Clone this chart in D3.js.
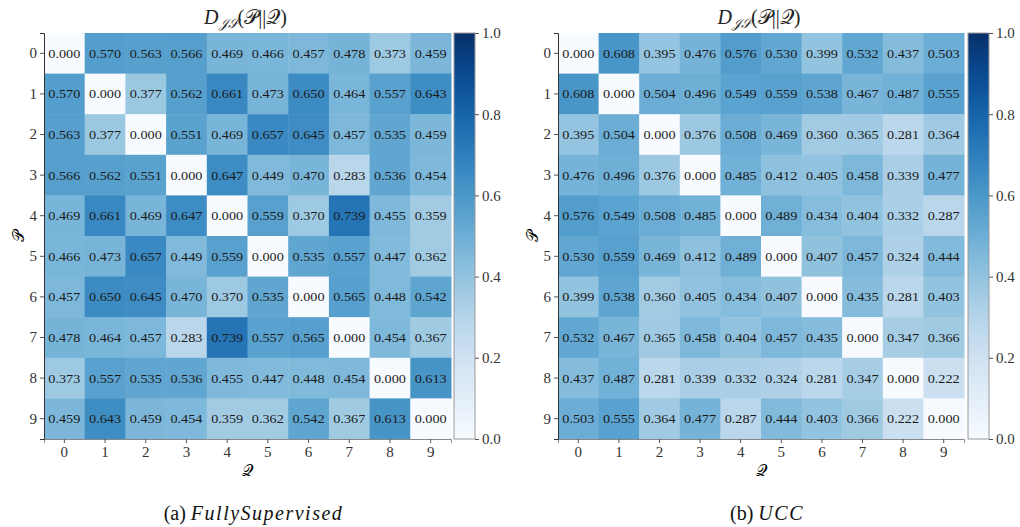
<!DOCTYPE html>
<html><head><meta charset="utf-8">
<script src="https://cdn.jsdelivr.net/npm/d3@7"></script>
<style>body{margin:0;background:#fff}svg{display:block}</style>
</head><body><svg id="c" width="1020" height="527"></svg>
<script>
const labels = ["0","1","2","3","4","5","6","7","8","9"];
const fullySupervised = [
[0.000,0.570,0.563,0.566,0.469,0.466,0.457,0.478,0.373,0.459],
[0.570,0.000,0.377,0.562,0.661,0.473,0.650,0.464,0.557,0.643],
[0.563,0.377,0.000,0.551,0.469,0.657,0.645,0.457,0.535,0.459],
[0.566,0.562,0.551,0.000,0.647,0.449,0.470,0.283,0.536,0.454],
[0.469,0.661,0.469,0.647,0.000,0.559,0.370,0.739,0.455,0.359],
[0.466,0.473,0.657,0.449,0.559,0.000,0.535,0.557,0.447,0.362],
[0.457,0.650,0.645,0.470,0.370,0.535,0.000,0.565,0.448,0.542],
[0.478,0.464,0.457,0.283,0.739,0.557,0.565,0.000,0.454,0.367],
[0.373,0.557,0.535,0.536,0.455,0.447,0.448,0.454,0.000,0.613],
[0.459,0.643,0.459,0.454,0.359,0.362,0.542,0.367,0.613,0.000]];
const ucc = [
[0.000,0.608,0.395,0.476,0.576,0.530,0.399,0.532,0.437,0.503],
[0.608,0.000,0.504,0.496,0.549,0.559,0.538,0.467,0.487,0.555],
[0.395,0.504,0.000,0.376,0.508,0.469,0.360,0.365,0.281,0.364],
[0.476,0.496,0.376,0.000,0.485,0.412,0.405,0.458,0.339,0.477],
[0.576,0.549,0.508,0.485,0.000,0.489,0.434,0.404,0.332,0.287],
[0.530,0.559,0.469,0.412,0.489,0.000,0.407,0.457,0.324,0.444],
[0.399,0.538,0.360,0.405,0.434,0.407,0.000,0.435,0.281,0.403],
[0.532,0.467,0.365,0.458,0.404,0.457,0.435,0.000,0.347,0.366],
[0.437,0.487,0.281,0.339,0.332,0.324,0.281,0.347,0.000,0.222],
[0.503,0.555,0.364,0.477,0.287,0.444,0.403,0.366,0.222,0.000]];
const colorTicks = [0,0.2,0.4,0.6,0.8,1.0];
const panels = [
  {data: fullySupervised, x0: 44, x1: 451, cap: "(a) ", capIt: "FullySupervised", cbx: 454},
  {data: ucc, x0: 558, x1: 964, cap: "(b) ", capIt: "UCC", cbx: 968}
];
const FONT = '"Liberation Serif"';
const svg = d3.select("#c");
const color = d3.scaleSequential(d3.interpolateBlues).domain([0,1]);
const yTop = 33, yBot = 439;

const defs = svg.append("defs");
const grad = defs.append("linearGradient").attr("id","g").attr("x1",0).attr("y1",1).attr("x2",0).attr("y2",0);
d3.range(0,1.0001,0.05).forEach(t=>grad.append("stop").attr("offset",t).attr("stop-color",color(t)));

panels.forEach((p,pi)=>{
  const g = svg.append("g").style("font-family",FONT);
  const x = d3.scaleBand().domain(labels).range([p.x0,p.x1]);
  const y = d3.scaleBand().domain(labels).range([yTop,yBot]);
  p.data.forEach((row,i)=>row.forEach((v,j)=>{
    g.append("rect").attr("x",x(labels[j])).attr("y",y(labels[i]))
     .attr("width",x.bandwidth()+0.5).attr("height",y.bandwidth()+0.5).attr("fill",color(v));
    g.append("text").attr("x",x(labels[j])+x.bandwidth()/2).attr("y",y(labels[i])+y.bandwidth()/2+4.5)
     .attr("text-anchor","middle").attr("font-size",13).attr("textLength",32).attr("lengthAdjust","spacingAndGlyphs")
     .style("font-family",FONT).attr("fill","#1a1a1a").text(v.toFixed(3));
  }));
  const ax = g.append("g").attr("transform",`translate(0,${yBot})`).call(d3.axisBottom(x).tickSize(4).tickPadding(3));
  const ay = g.append("g").attr("transform",`translate(${p.x0},0)`).call(d3.axisLeft(y).tickSize(4).tickPadding(3));
  [ax,ay].forEach(a=>{a.attr("font-family",null);a.selectAll("text").attr("font-size",15).style("font-family",FONT).attr("fill","#333");
    a.selectAll("line").attr("stroke","#555"); a.select(".domain").attr("stroke","#333").attr("stroke-width",1);});
  ax.select(".domain").attr("stroke","#888");
  // colorbar
  const cy = d3.scaleLinear().domain([0,1]).range([yBot,yTop]);
  g.append("rect").attr("x",p.cbx).attr("y",yTop).attr("width",21).attr("height",yBot-yTop)
   .attr("fill","url(#g)").attr("stroke","#999").attr("stroke-width",1);
  const ac = g.append("g").attr("transform",`translate(${p.cbx+21},0)`).call(d3.axisRight(cy).tickValues(colorTicks).tickFormat(d3.format(".1f")).tickSize(4).tickPadding(3));
  ac.select(".domain").remove();
  ac.attr("font-family",null);
  ac.selectAll("text").attr("font-size",15).style("font-family",FONT).attr("fill","#333");
  ac.selectAll("line").attr("stroke","#555");
  const cx = (p.x0+p.x1)/2;
  // title
  const t = g.append("text").attr("x",cx-2).attr("y",24).attr("text-anchor","middle").attr("font-size",20).attr("fill","#222");
  t.append("tspan").attr("font-style","italic").text("D");
  t.append("tspan").attr("font-size",13).attr("dy",4).attr("font-style","italic").text("𝒥𝒮");
  t.append("tspan").attr("dy",-4).text("(");
  t.append("tspan").text("𝒫");
  t.append("tspan").text("||");
  t.append("tspan").text("𝒬");
  t.append("tspan").text(")");
  // x label
  g.append("text").attr("x",cx).attr("y",476).attr("text-anchor","middle").attr("font-size",16).text("𝒬");
  // y label
  g.append("text").attr("transform",`translate(${p.x0-20},${(yTop+yBot)/2}) rotate(-90)`).attr("text-anchor","middle").attr("font-size",16).text("𝒫");
  // caption
  const c = g.append("text").attr("x",cx+6).attr("y",520).attr("text-anchor","middle").attr("font-size",20).attr("fill","#111");
  c.append("tspan").text(p.cap);
  c.append("tspan").attr("font-style","italic").attr("letter-spacing",1.5).text(p.capIt);
});
</script></body></html>
